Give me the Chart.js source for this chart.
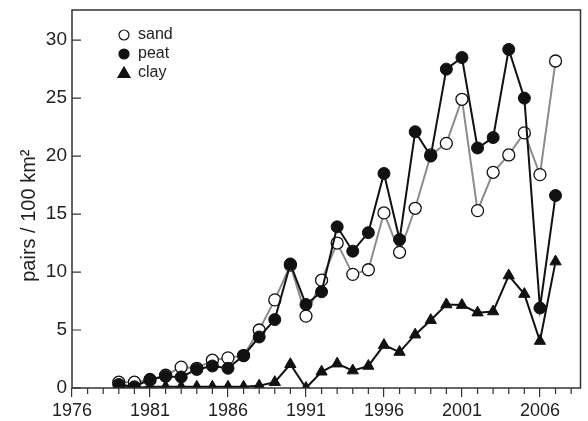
<!DOCTYPE html>
<html>
<head>
<meta charset="utf-8">
<script src="https://cdn.jsdelivr.net/npm/chart.js@4"></script>
<style>
  html, body { margin: 0; padding: 0; background: #fff; }
  #wrap { width: 588px; height: 421px; }
</style>
</head>
<body>
<div id="wrap"><canvas id="c"></canvas></div>
<script>
// ── data ──
const years = [1979, 1980, 1981, 1982, 1983, 1984, 1985, 1986, 1987, 1988, 1989, 1990,
  1991, 1992, 1993, 1994, 1995, 1996, 1997, 1998, 1999, 2000, 2001, 2002, 2003,
  2004, 2005, 2006, 2007];
const sand = [0.5, 0.5, 0.7, 1.1, 1.8, 1.7, 2.4, 2.6, 2.8, 5.0, 7.6, 10.6,
  6.2, 9.3, 12.5, 9.8, 10.2, 15.1, 11.7, 15.5, 20.1, 21.1, 24.9, 15.3, 18.6,
  20.1, 22.0, 18.4, 28.2];
const peat = [0.3, 0.1, 0.75, 1.0, 0.95, 1.6, 1.9, 1.7, 2.8, 4.4, 5.9, 10.7,
  7.2, 8.3, 13.9, 11.8, 13.4, 18.5, 12.8, 22.1, 20.0, 27.5, 28.5, 20.7, 21.6,
  29.2, 25.0, 6.9, 16.6];
const clay = [0.1, 0.0, 0.1, 0.1, 0.1, 0.1, 0.1, 0.1, 0.1, 0.2, 0.5, 2.05,
  0.0, 1.4, 2.1, 1.5, 1.9, 3.7, 3.1, 4.6, 5.85, 7.2, 7.15, 6.5, 6.6,
  9.7, 8.1, 4.05, 10.9];
const xMajorTicks = [1976, 1981, 1986, 1991, 1996, 2001, 2006];
const yTicks = [0, 5, 10, 15, 20, 25, 30];

const FONT = '"Liberation Sans", Arial, Helvetica, sans-serif';
const INK = '#222';

const pts = arr => arr.map((v, i) => ({ x: years[i], y: v }));

// frame, inward y ticks, minor x ticks, legend
const decor = {
  id: 'decor',
  afterDraw(chart) {
    const { ctx, chartArea: a } = chart;
    const xs = chart.scales.x, ys = chart.scales.y;
    ctx.save();
    ctx.strokeStyle = '#333';
    ctx.lineWidth = 1.5;
    ctx.strokeRect(a.left, a.top, a.right - a.left, a.bottom - a.top);

    ctx.lineWidth = 1.2;
    ctx.beginPath();
    yTicks.forEach(v => {
      const py = ys.getPixelForValue(v);
      ctx.moveTo(a.left, py);
      ctx.lineTo(a.left + 9, py);
    });
    for (let yr = 1976; yr <= 2008; yr++) {
      if (xMajorTicks.includes(yr)) continue;
      const px = xs.getPixelForValue(yr);
      ctx.moveTo(px, a.bottom);
      ctx.lineTo(px, a.bottom + 6);
    }
    ctx.stroke();

    // legend
    const lx = a.left + 52, ly = a.top + 25, step = 19;
    ctx.font = '16px ' + FONT;
    ctx.textBaseline = 'middle';
    chart.data.datasets.forEach((ds, i) => {
      const y = ly + i * step;
      ctx.beginPath();
      ctx.lineWidth = 1.2;
      ctx.strokeStyle = '#111';
      ctx.fillStyle = ds.pointBackgroundColor;
      if (ds.pointStyle === 'triangle') {
        const r = 6;
        ctx.moveTo(lx, y - r);
        ctx.lineTo(lx + r, y + r * 0.75);
        ctx.lineTo(lx - r, y + r * 0.75);
        ctx.closePath();
      } else {
        ctx.arc(lx, y, 5, 0, Math.PI * 2);
      }
      ctx.fill();
      ctx.stroke();
      ctx.fillStyle = INK;
      ctx.fillText(ds.label, lx + 14, y);
    });
    ctx.restore();
  }
};

new Chart(document.getElementById('c'), {
  type: 'line',
  data: {
    datasets: [
      {
        label: 'sand', data: pts(sand), order: 3,
        borderColor: '#8c8c8c', borderWidth: 2,
        pointStyle: 'circle', pointRadius: 6, pointBorderWidth: 1.3,
        pointBackgroundColor: '#fff', pointBorderColor: '#111',
      },
      {
        label: 'peat', data: pts(peat), order: 2,
        borderColor: '#111', borderWidth: 2,
        pointStyle: 'circle', pointRadius: 6, pointBorderWidth: 1,
        pointBackgroundColor: '#111', pointBorderColor: '#111',
      },
      {
        label: 'clay', data: pts(clay), order: 1,
        borderColor: '#111', borderWidth: 2,
        pointStyle: 'triangle', pointRadius: 6.5, pointBorderWidth: 1,
        pointBackgroundColor: '#111', pointBorderColor: '#111',
      },
    ],
  },
  options: {
    responsive: true,
    maintainAspectRatio: false,
    animation: false,
    devicePixelRatio: 1,
    layout: { padding: { top: 10, right: 5, left: 0, bottom: 0 } },
    plugins: {
      legend: { display: false },
      tooltip: { enabled: false },
    },
    elements: { line: { tension: 0 } },
    scales: {
      x: {
        type: 'linear',
        min: 1976,
        max: 2008.6,
        afterBuildTicks: s => { s.ticks = xMajorTicks.map(v => ({ value: v })); },
        afterFit: s => { s.height = 33; },
        border: { display: false },
        grid: { drawOnChartArea: false, drawTicks: true, tickLength: 9, color: '#333', lineWidth: 1.2 },
        ticks: {
          color: INK, padding: 3, maxRotation: 0,
          font: { family: FONT, size: 18 },
          callback: v => String(v),
        },
      },
      y: {
        min: 0,
        max: 32.6,
        afterBuildTicks: s => { s.ticks = yTicks.map(v => ({ value: v })); },
        afterFit: s => { s.width = 72; s.paddingTop = 0; s.paddingBottom = 0; },
        border: { display: false },
        grid: { display: false, drawTicks: false },
        ticks: {
          color: INK, padding: 5,
          font: { family: FONT, size: 19 },
        },
        title: {
          display: true,
          text: 'pairs / 100 km²\u00a0\u00a0\u00a0\u00a0\u00a0\u00a0',
          color: INK,
          padding: { top: 17, bottom: 0 },
          font: { family: FONT, size: 20 },
        },
      },
    },
  },
  plugins: [decor],
});
</script>
</body>
</html>
